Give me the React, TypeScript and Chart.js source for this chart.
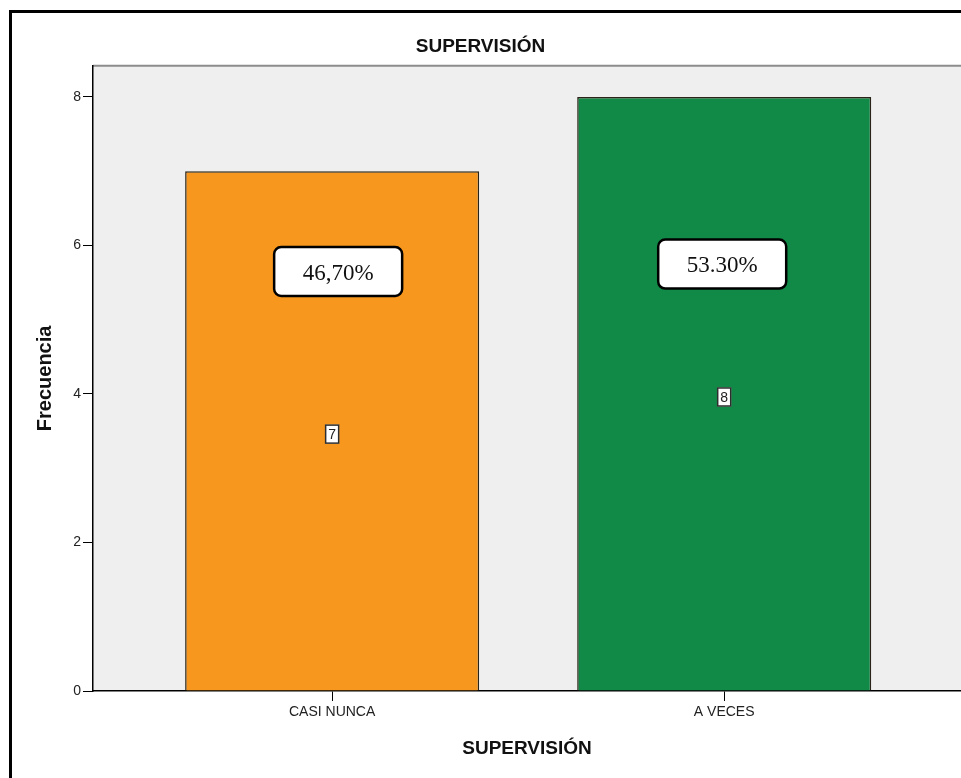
import { useEffect, useRef } from "react";
import { Chart, registerables } from "chart.js";

Chart.register(...registerables);

// values
const categories = ["CASI NUNCA", "A VECES"];
const counts = [7, 8];
const percentLabels = ["46,70%", "53.30%"];
const yTicks = [0, 2, 4, 6, 8];

const SANS = '"Liberation Sans", Arial, sans-serif';
const SERIF = '"Liberation Serif", "Times New Roman", serif';
const BAR_COLORS = ["#f7971d", "#128a47"];

// grey plot panel with a soft top edge, drawn under the axes
const plotPanel = {
  id: "plotPanel",
  beforeDraw(chart: Chart) {
    const { ctx, chartArea: a } = chart;
    ctx.save();
    ctx.fillStyle = "#efefef";
    ctx.fillRect(a.left, a.top, a.right - a.left, a.bottom - a.top);
    ctx.strokeStyle = "#8c8c8c";
    ctx.lineWidth = 2;
    ctx.beginPath();
    ctx.moveTo(a.left, a.top);
    ctx.lineTo(a.right, a.top);
    ctx.stroke();
    ctx.restore();
  },
};

// count tags in the middle of each bar + the pasted percentage boxes
const barTags = {
  id: "barTags",
  afterDatasetsDraw(chart: Chart) {
    const { ctx } = chart;
    const xs = chart.scales.x;
    const ys = chart.scales.y;
    // percentage boxes sit a little off-centre, as in the source
    const pctDx = [6, -2];
    const pctAt = [5.65, 5.75];
    ctx.save();
    counts.forEach((v, i) => {
      const cx = xs.getPixelForValue(i);
      const cy = ys.getPixelForValue(v / 2) + 3;
      ctx.fillStyle = "#fff";
      ctx.fillRect(cx - 7, cy - 9.5, 14, 19);
      ctx.strokeStyle = "#2e2e2e";
      ctx.lineWidth = 1.5;
      ctx.strokeRect(cx - 6.5, cy - 9, 13, 18);
      ctx.fillStyle = "#222";
      ctx.font = `14px ${SANS}`;
      ctx.textAlign = "center";
      ctx.textBaseline = "middle";
      ctx.fillText(String(v), cx, cy + 1);

      const px = cx + pctDx[i];
      const py = ys.getPixelForValue(pctAt[i]);
      ctx.beginPath();
      ctx.roundRect(px - 64, py - 24.5, 128, 49, 7);
      ctx.fillStyle = "#fff";
      ctx.fill();
      ctx.lineWidth = 2.5;
      ctx.strokeStyle = "#000";
      ctx.stroke();
      ctx.fillStyle = "#111";
      ctx.font = `23px ${SERIF}`;
      ctx.fillText(percentLabels[i], px, py + 2);
    });
    ctx.restore();
  },
};

export default function App() {
  const canvasRef = useRef<HTMLCanvasElement>(null);

  useEffect(() => {
    document.body.style.margin = "0";
    const chart = new Chart(canvasRef.current!, {
      type: "bar",
      data: {
        datasets: [
          {
            data: counts.map((y, x) => ({ x, y })),
            backgroundColor: BAR_COLORS,
            borderColor: "#2a2418",
            borderWidth: 1.5,
            barPercentage: 0.75,
            categoryPercentage: 1,
          },
        ],
      },
      options: {
        responsive: false,
        animation: false,
        events: [],
        layout: { padding: 0 },
        plugins: {
          legend: { display: false },
          tooltip: { enabled: false },
          title: {
            display: true,
            text: "SUPERVISIÓN",
            color: "#111",
            font: { family: SANS, size: 19, weight: "bold" },
            padding: { top: 35, bottom: 8 },
          },
        },
        scales: {
          x: {
            type: "linear",
            offset: false,
            min: -0.61,
            max: 1.604,
            afterBuildTicks: (s: any) => {
              s.ticks = categories.map((_, i) => ({ value: i }));
            },
            afterFit: (s: any) => {
              s.height = 87;
            },
            ticks: {
              callback: (v: any) => categories[v] ?? "",
              color: "#222",
              font: { family: SANS, size: 14 },
              padding: 3,
              maxRotation: 0,
              autoSkip: false,
            },
            grid: { drawOnChartArea: false, offset: false, tickLength: 10, color: "#000" },
            border: { color: "#000", width: 1.5 },
            title: {
              display: true,
              text: "SUPERVISIÓN",
              color: "#111",
              font: { family: SANS, size: 19, weight: "bold" },
              padding: { top: 0, bottom: 18 },
            },
          },
          y: {
            min: 0,
            max: 8.42,
            afterBuildTicks: (s: any) => {
              s.ticks = yTicks.map((value) => ({ value }));
            },
            afterFit: (s: any) => {
              s.width = 93;
            },
            ticks: {
              color: "#222",
              font: { family: SANS, size: 14 },
              padding: 2,
            },
            grid: { drawOnChartArea: false, tickLength: 10, color: "#000" },
            border: { color: "#000", width: 1.5 },
            title: {
              display: true,
              text: "Frecuencia",
              color: "#111",
              font: { family: SANS, size: 20, weight: "bold" },
              padding: { top: 33, bottom: 0 },
            },
          },
        },
      },
      plugins: [plotPanel, barTags],
    });
    return () => chart.destroy();
  }, []);

  return (
    <div style={{ position: "relative", width: 961, height: 778, background: "#fff", overflow: "hidden" }}>
      <canvas ref={canvasRef} width={961} height={778} style={{ position: "absolute", left: 0, top: 0 }} />
      <div
        style={{
          position: "absolute",
          left: 9,
          top: 10,
          right: -5,
          bottom: -5,
          borderTop: "3px solid #000",
          borderLeft: "3px solid #000",
          pointerEvents: "none",
        }}
      />
    </div>
  );
}
